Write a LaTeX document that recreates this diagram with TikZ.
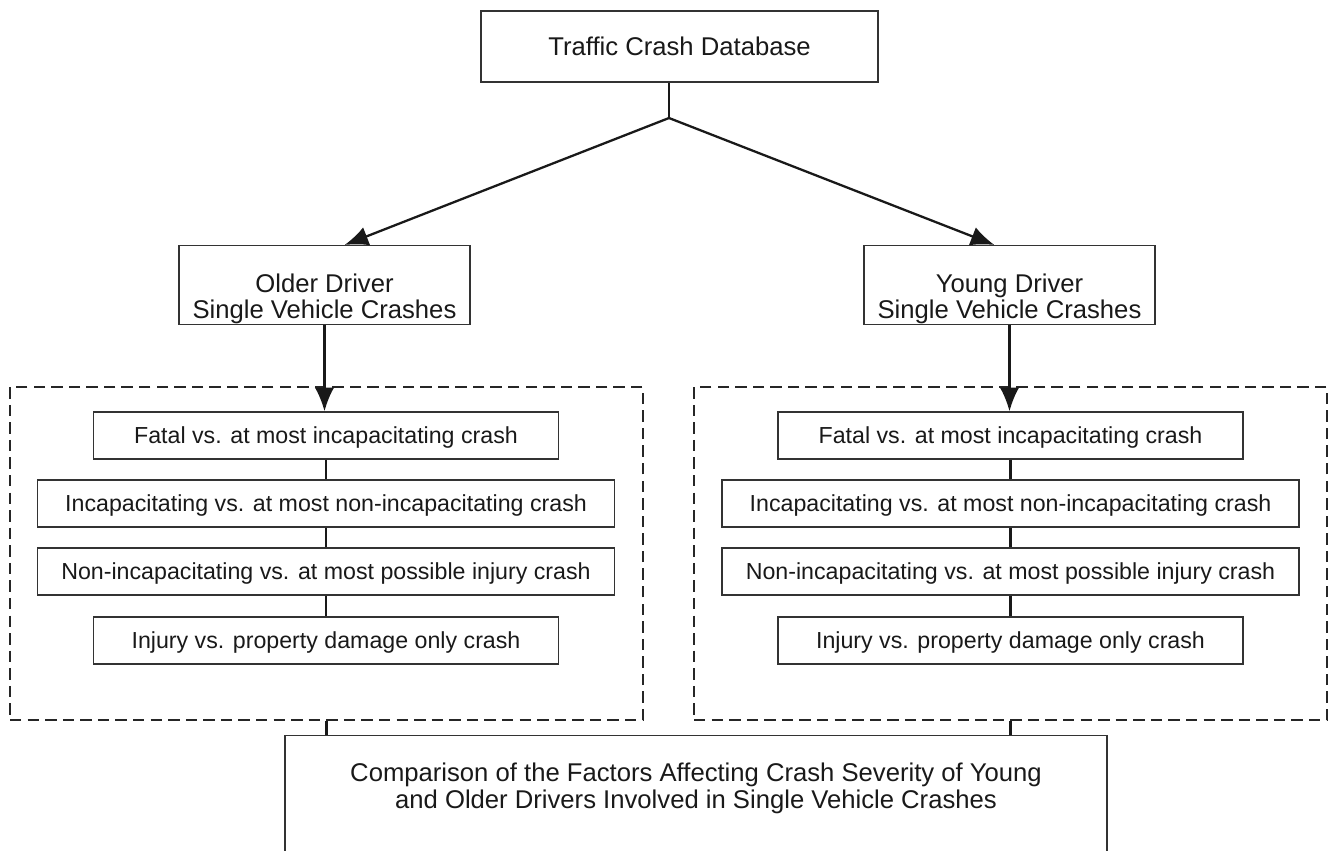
\documentclass[tikz,border=0pt]{standalone}
\usepackage{fontspec}
\setmainfont{Liberation Sans}
\usetikzlibrary{arrows.meta}
\tikzset{
	box/.style={draw=black!80, line width=0.8pt, align=center, inner sep=0pt, text=black!90},
	bigtxt/.style={font=\fontsize{14.6}{15.3}\selectfont},
	smalltxt/.style={font=\fontsize{13.2}{15}\selectfont},
	setbox/.style={draw=black!85, line width=1.1pt, dash pattern=on 6.5pt off 3.5pt, inner sep=0pt},
	link/.style={draw=black!90, line width=1.3pt},
	arr/.style={link, -{Latex[length=13.5pt,width=11pt]}}
}

\begin{document}
\begin{tikzpicture}[x=0.02cm, y=-0.02cm]
			%%%%% START %%%%%
			\useasboundingbox (0, 0) rectangle (1332, 850);
			
			\node[box, bigtxt, minimum width=7.94cm, minimum height=1.42cm] (db) at (679.5, 46.5) {Traffic Crash Database};
			\coordinate (split) at (669, 118);
			
			\node[box, bigtxt, minimum width=5.82cm, minimum height=1.56cm] (older) at (324.5, 285) {\rule{0pt}{26.4pt}Older Driver\\Single Vehicle Crashes};
			\node[box, bigtxt, minimum width=5.82cm, minimum height=1.56cm] (young) at (1009.5, 285) {\rule{0pt}{26.4pt}Young Driver\\Single Vehicle Crashes};
			
			% dashed groups
			\node[setbox, minimum width=12.66cm, minimum height=6.66cm] (olderset) at (326.5, 553.5) {};
			\node[setbox, minimum width=12.66cm, minimum height=6.66cm] (youngset) at (1010.5, 553.5) {};
			
			% older severity levels
			\node[box, smalltxt, minimum width=9.3cm, minimum height=0.94cm] (ofatal) at (326, 435.5) {\rule{0pt}{11.5pt}Fatal vs. at most incapacitating crash};
			\node[box, smalltxt, minimum width=11.54cm, minimum height=0.94cm] (oincap) at (326, 503.5) {\rule{0pt}{11.5pt}Incapacitating vs. at most non-incapacitating crash};
			\node[box, smalltxt, minimum width=11.54cm, minimum height=0.94cm] (ononinc) at (326, 571.5) {\rule{0pt}{11.5pt}Non-incapacitating vs. at most possible injury crash};
			\node[box, smalltxt, minimum width=9.3cm, minimum height=0.94cm] (oinjury) at (326, 640.5) {\rule{0pt}{11.5pt}Injury vs. property damage only crash};
			
			% young severity levels
			\node[box, smalltxt, minimum width=9.3cm, minimum height=0.94cm] (yfatal) at (1010.5, 435.5) {\rule{0pt}{11.5pt}Fatal vs. at most incapacitating crash};
			\node[box, smalltxt, minimum width=11.54cm, minimum height=0.94cm] (yincap) at (1010.5, 503.5) {\rule{0pt}{11.5pt}Incapacitating vs. at most non-incapacitating crash};
			\node[box, smalltxt, minimum width=11.54cm, minimum height=0.94cm] (ynoninc) at (1010.5, 571.5) {\rule{0pt}{11.5pt}Non-incapacitating vs. at most possible injury crash};
			\node[box, smalltxt, minimum width=9.3cm, minimum height=0.94cm] (yinjury) at (1010.5, 640.5) {\rule{0pt}{11.5pt}Injury vs. property damage only crash};
			
			% comparison (runs off the page)
			\node[box, minimum width=16.44cm, minimum height=3cm, anchor=north] (compare) at (696, 735) {};
			\node[bigtxt, align=center, text=black!90] (comparetxt) at (696, 788) {Comparison of the Factors Affecting Crash Severity of Young\\and Older Drivers Involved in Single Vehicle Crashes};
			
			\draw[link] (db.south -| split) -- (split);
			\draw[arr] (split) -- ([xshift=0.4cm]older.north);
			\draw[arr] (split) -- ([xshift=-0.3cm]young.north);
			
			\draw[arr] (older.south) -- (older.south |- ofatal.north);
			\draw[arr] (young.south) -- (young.south |- yfatal.north);
			
			\draw[link] (ofatal) -- (oincap) -- (ononinc) -- (oinjury);
			\draw[link] (yfatal) -- (yincap) -- (ynoninc) -- (yinjury);
			
			\draw[link] (olderset.south) -- (olderset.south |- compare.north);
			\draw[link] (youngset.south) -- (youngset.south |- compare.north);
			%%%%% END %%%%%
\end{tikzpicture}
\end{document}
